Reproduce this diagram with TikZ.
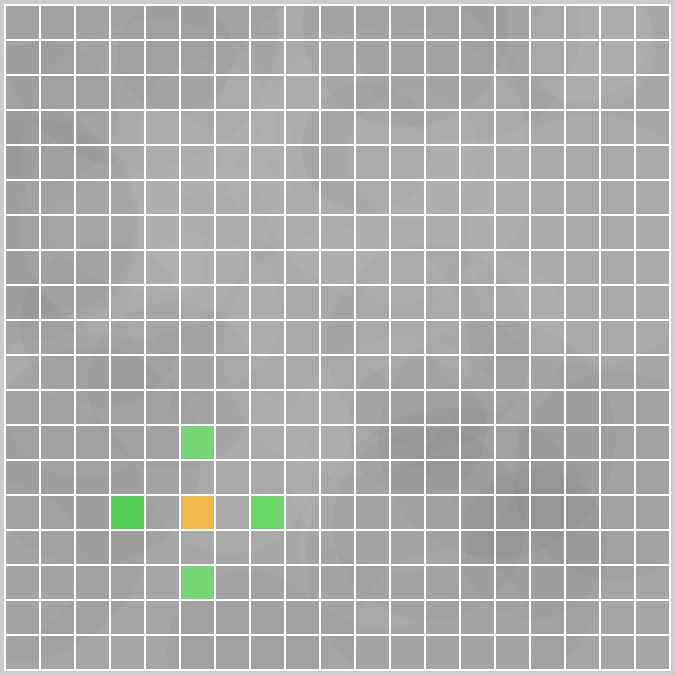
\documentclass[tikz,border=0pt]{standalone}
\usepackage{tikz}
\usetikzlibrary{positioning}

\definecolor{framegray}{HTML}{CCCCCC}
\definecolor{cellgray}{HTML}{A6A6A6}
\definecolor{litegreen}{HTML}{74D674}
\definecolor{deepgreen}{HTML}{56D056}
\definecolor{midgreen}{HTML}{6AD66A}
\definecolor{amber}{HTML}{F0B84C}

\begin{document}
\begin{tikzpicture}[
    x=1pt, y=-1pt,
    gridline/.style={draw=white, line width=2pt},
    mark cell/.style={fill=#1}
]

\useasboundingbox (0,0) rectangle (675,675);
\fill[framegray] (0,0) rectangle (675,675);

% board with soft shading
\begin{scope}
\clip (5,5) rectangle (670,670);
\fill[cellgray] (5,5) rectangle (670,670);
\pgfmathsetseed{11}
\foreach \i in {1,...,40}{
  \pgfmathsetmacro{\cx}{rnd*675}
  \pgfmathsetmacro{\cy}{rnd*675}
  \pgfmathsetmacro{\rr}{50+rnd*110}
  \ifodd\i
    \fill[white, opacity=0.035] (\cx,\cy) circle (\rr pt);
  \else
    \fill[black, opacity=0.025] (\cx,\cy) circle (\rr pt);
  \fi
}
\end{scope}

% highlighted cells (column, row)
\fill[mark cell=litegreen] (180,425) rectangle ++(35,35);
\fill[mark cell=amber]     (180,495) rectangle ++(35,35);
\fill[mark cell=deepgreen] (110,495) rectangle ++(35,35);
\fill[mark cell=midgreen]  (250,495) rectangle ++(35,35);
\fill[mark cell=litegreen] (180,565) rectangle ++(35,35);

% grid
\foreach \k in {0,...,19}{
  \draw[gridline] (5+35*\k,4) -- (5+35*\k,671);
  \draw[gridline] (4,5+35*\k) -- (671,5+35*\k);
}

\end{tikzpicture}
\end{document}
